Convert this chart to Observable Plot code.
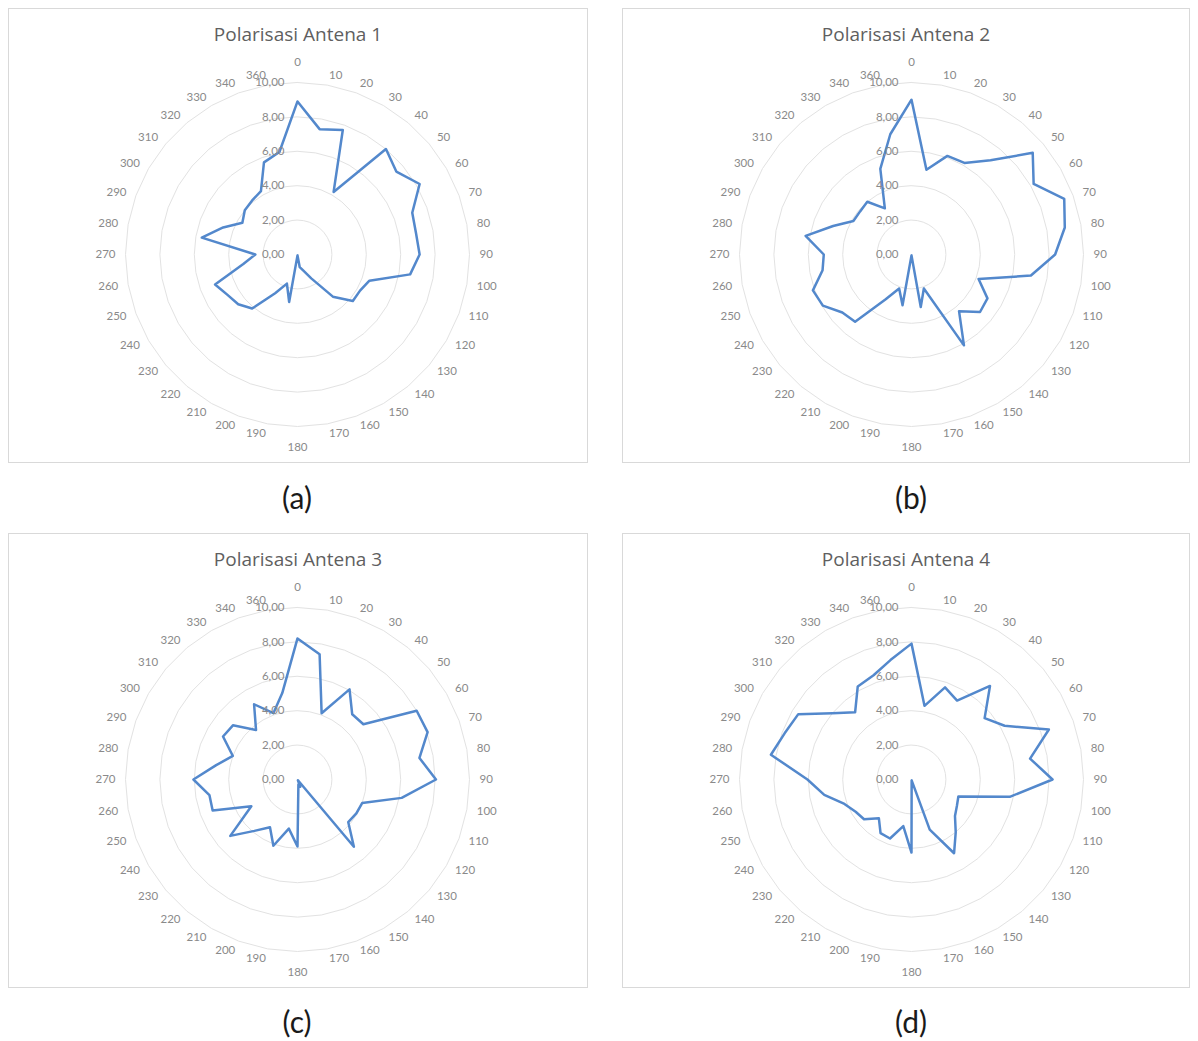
<!DOCTYPE html>
<html>
<head>
<meta charset="utf-8">
<script src="https://cdn.jsdelivr.net/npm/d3@7"></script>
<script src="https://cdn.jsdelivr.net/npm/@observablehq/plot@0.6"></script>
<style>
  html, body { margin: 0; padding: 0; background: #ffffff; }
  body { width: 1198px; height: 1041px; position: relative; overflow: hidden; font-family: Lato, "Open Sans", sans-serif; }
  .box { position: absolute; border: 1px solid #d9d9d9; box-sizing: border-box; background: #ffffff; }
  .title { position: absolute; left: 0; right: 0; text-align: center; color: #5f5f5f; font-family: "Open Sans", Lato, sans-serif; font-size: 19px; line-height: 20px; }
  .cap { position: absolute; width: 200px; text-align: center; font-size: 30px; line-height: 34px; color: #1a1a1a; }
  .chart { position: absolute; }
</style>
</head>
<body>
<script>
// Category (angle) labels of the radar charts, clockwise from the top
const categories = ["0","10","20","30","40","50","60","70","80","90","100","110","120","130","140","150","160","170",
  "180","190","200","210","220","230","240","250","260","270","280","290","300","310","320","330","340","360"];

// Radial value axis ticks
const valueTicks = [0, 2, 4, 6, 8, 10];

// Series values, one per category
const antena1 = [8.9, 7.4, 7.7, 4.2, 8.0, 7.5, 8.2, 7.1, 7.0, 7.1, 6.65, 4.45, 4.2, 4.2, 3.2, 1.6, 1.0, 0.75,
  0.05, 2.8, 1.8, 2.6, 4.1, 4.5, 4.7, 5.1, 3.2, 2.45, 5.65, 4.6, 3.7, 4.0, 4.1, 4.25, 5.7, 6.05];
const antena2 = [9.0, 5.0, 6.1, 6.15, 7.15, 9.2, 8.2, 9.45, 9.05, 8.35, 7.05, 4.15, 5.1, 5.2, 4.3, 6.1, 2.1, 3.1,
  0.05, 3.0, 2.1, 3.0, 5.1, 5.25, 5.95, 6.1, 5.25, 5.1, 6.25, 4.85, 3.9, 3.9, 4.0, 3.1, 5.3, 7.1];
const antena3 = [8.2, 7.4, 4.1, 6.05, 4.95, 5.0, 8.0, 8.05, 7.2, 8.05, 6.15, 4.0, 3.95, 3.85, 5.1, 0.05, 0.45, 0.3,
  3.9, 2.9, 4.1, 3.2, 3.9, 5.1, 3.1, 5.25, 5.2, 6.05, 4.8, 4.0, 5.0, 4.9, 3.75, 5.05, 4.1, 5.1];
const antena4 = [7.9, 4.35, 5.7, 5.3, 7.1, 5.55, 6.25, 8.5, 7.0, 8.2, 5.8, 2.9, 3.05, 3.3, 4.0, 4.95, 3.1, 0.05,
  4.25, 2.75, 3.65, 3.6, 2.95, 3.6, 3.75, 4.15, 5.15, 6.05, 8.3, 7.85, 7.6, 6.0, 5.1, 6.25, 6.45, 7.05];

const titles = ["Polarisasi Antena 1", "Polarisasi Antena 2", "Polarisasi Antena 3", "Polarisasi Antena 4"];
const captions = ["(a)", "(b)", "(c)", "(d)"];
const seriesList = [antena1, antena2, antena3, antena4];

// ---- layout ----
const boxLeft = [8, 622], boxTop = [8, 533];
const boxW = [580, 568], boxH = 455;
const centerX = [297, 911], centerY = [254, 779];
const captionY = [497, 1021];
const pxPerUnit = 17.2;
const step = 2 * Math.PI / categories.length;
const ang = i => i * step;

seriesList.forEach((values, k) => {
  const col = k % 2, row = Math.floor(k / 2);
  const bl = boxLeft[col], bt = boxTop[row], bw = boxW[col];

  const box = document.createElement("div");
  box.className = "box";
  Object.assign(box.style, { left: bl + "px", top: bt + "px", width: bw + "px", height: boxH + "px" });
  const t = document.createElement("div");
  t.className = "title";
  t.style.top = "15px";
  t.textContent = titles[k];
  box.appendChild(t);
  document.body.appendChild(box);

  // chart area inside the box, below the title
  const svgLeft = bl + 1, svgTop = bt + 44;
  const W = bw - 2, H = boxH - 45;
  const cx = centerX[col] - svgLeft, cy = centerY[row] - svgTop;

  const rings = valueTicks.filter(v => v > 0).flatMap(v =>
    categories.map((c, i) => ({ ring: v, x: v * Math.sin(ang(i)), y: v * Math.cos(ang(i)) })));

  const pts = values.map((v, i) => ({ cat: categories[i], v, x: v * Math.sin(ang(i)), y: v * Math.cos(ang(i)) }));

  const labels = categories.map((c, i) => ({ c, i, a: ang(i) }));
  const isTopBottom = d => d.i === 0 || d.i === 18;
  const rL = 10.58, rTB = 11.2;

  const chart = Plot.plot({
    width: W,
    height: H,
    margin: 0,
    x: { domain: [-cx / pxPerUnit, (W - cx) / pxPerUnit], axis: null },
    y: { domain: [-(H - cy) / pxPerUnit, cy / pxPerUnit], axis: null },
    style: { fontFamily: "Lato, 'Open Sans', sans-serif", background: "transparent", overflow: "visible" },
    marks: [
      Plot.line(rings, { x: "x", y: "y", z: "ring", curve: "linear-closed", stroke: "#e2e2e2", strokeWidth: 1 }),
      Plot.line(pts, { x: "x", y: "y", curve: "linear-closed", stroke: "#5388cc", strokeWidth: 2.5, strokeLinejoin: "round" }),
      Plot.text(valueTicks, { x: d => 0, y: d => d, text: d => d.toFixed(2).replace(".", ","),
        textAnchor: "end", dx: -13, fill: "#8a8a8a", fontSize: 11.5 }),
      Plot.text(labels.filter(d => !isTopBottom(d) && d.i < 18), { x: d => rL * Math.sin(d.a), y: d => rL * Math.cos(d.a),
        text: "c", textAnchor: "start", fill: "#8a8a8a", fontSize: 11.5 }),
      Plot.text(labels.filter(d => !isTopBottom(d) && d.i > 18), { x: d => rL * Math.sin(d.a), y: d => rL * Math.cos(d.a),
        text: "c", textAnchor: "end", fill: "#8a8a8a", fontSize: 11.5 }),
      Plot.text(labels.filter(isTopBottom), { x: d => rTB * Math.sin(d.a), y: d => rTB * Math.cos(d.a),
        text: "c", textAnchor: "middle", fill: "#8a8a8a", fontSize: 11.5 })
    ]
  });
  chart.classList.add("chart");
  chart.style.left = svgLeft + "px";
  chart.style.top = svgTop + "px";
  document.body.appendChild(chart);

  const cap = document.createElement("div");
  cap.className = "cap";
  cap.style.left = (centerX[col] - 100) + "px";
  cap.style.top = (captionY[row] - 17) + "px";
  cap.textContent = captions[k];
  document.body.appendChild(cap);
});
</script>
</body>
</html>
